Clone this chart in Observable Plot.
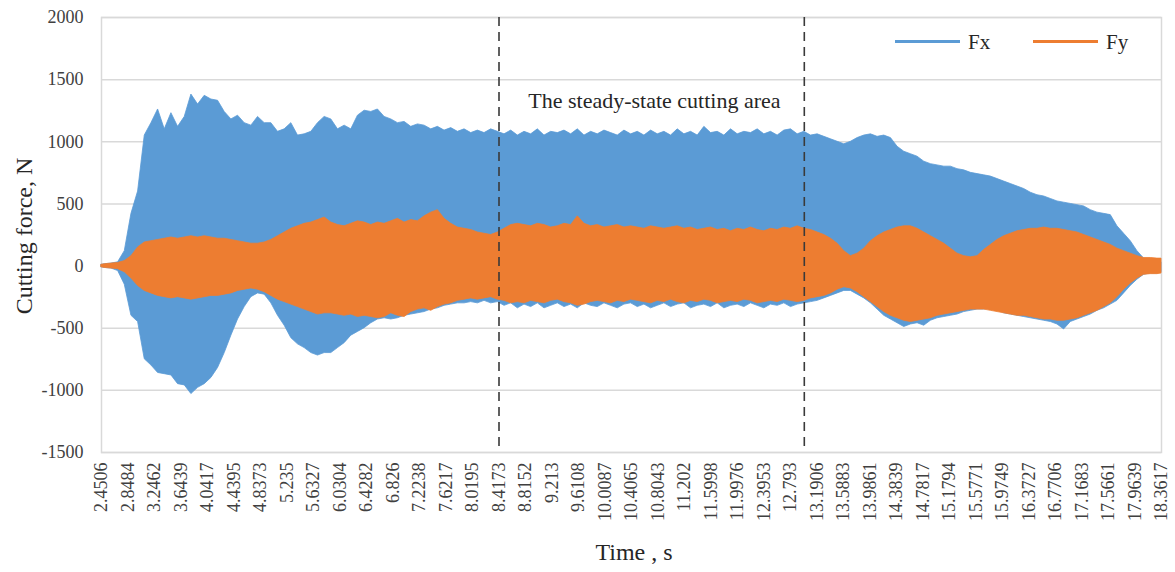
<!DOCTYPE html>
<html>
<head>
<meta charset="utf-8">
<script src="https://cdn.jsdelivr.net/npm/d3@7"></script>
<script src="https://cdn.jsdelivr.net/npm/@observablehq/plot@0.6"></script>
<style>
  body { margin: 0; background: #fff; }
  #wrap { position: relative; width: 1175px; height: 572px; font-family: "Liberation Serif", serif; color: #262626; }
  .abs { position: absolute; white-space: nowrap; }
  .ytitle { left: 24px; top: 236px; font-size: 24px; transform: translate(-50%, -50%) rotate(-90deg); }
  .xtitle { left: 634px; top: 552px; font-size: 24px; transform: translate(-50%, -50%); }
  .legtext { font-size: 21px; transform: translateY(-50%); }
  .legline { height: 2.5px; }
</style>
</head>
<body>
<div id="wrap"></div>
<script>
// ---- data ----
const seriesNames = ["Fx", "Fy"];
const seriesColors = ["#5B9BD5", "#ED7D31"];

const time = [2.4506,
  2.5, 2.6, 2.7, 2.8, 2.9,
  3.0, 3.1, 3.2, 3.3, 3.4, 3.5, 3.6, 3.7, 3.8, 3.9,
  4.0, 4.1, 4.2, 4.3, 4.4, 4.5, 4.6, 4.7, 4.8, 4.9,
  5.0, 5.1, 5.2, 5.3, 5.4, 5.5, 5.6, 5.7, 5.8, 5.9,
  6.0, 6.1, 6.2, 6.3, 6.4, 6.5, 6.6, 6.7, 6.8, 6.9,
  7.0, 7.1, 7.2, 7.3, 7.4, 7.5, 7.6, 7.7, 7.8, 7.9,
  8.0, 8.1, 8.2, 8.3, 8.4, 8.5, 8.6, 8.7, 8.8, 8.9,
  9.0, 9.1, 9.2, 9.3, 9.4, 9.5, 9.6, 9.7, 9.8, 9.9,
  10.0, 10.1, 10.2, 10.3, 10.4, 10.5, 10.6, 10.7, 10.8, 10.9,
  11.0, 11.1, 11.2, 11.3, 11.4, 11.5, 11.6, 11.7, 11.8, 11.9,
  12.0, 12.1, 12.2, 12.3, 12.4, 12.5, 12.6, 12.7, 12.8, 12.9,
  13.0, 13.1, 13.2, 13.3, 13.4, 13.5, 13.6, 13.7, 13.8, 13.9,
  14.0, 14.1, 14.2, 14.3, 14.4, 14.5, 14.6, 14.7, 14.8, 14.9,
  15.0, 15.1, 15.2, 15.3, 15.4, 15.5, 15.6, 15.7, 15.8, 15.9,
  16.0, 16.1, 16.2, 16.3, 16.4, 16.5, 16.6, 16.7, 16.8, 16.9,
  17.0, 17.1, 17.2, 17.3, 17.4, 17.5, 17.6, 17.7, 17.8, 17.9,
  18.0, 18.1, 18.2, 18.3,
  18.3617];

// Fx: upper and lower reach of the oscillation
const fxHigh = [10,
  15, 20, 30, 120, 420,
  600, 1050, 1150, 1260, 1100, 1230, 1120, 1200, 1380, 1300,
  1370, 1340, 1330, 1240, 1180, 1210, 1150, 1130, 1200, 1150,
  1150, 1080, 1100, 1150, 1050, 1060, 1080, 1150, 1200, 1180,
  1100, 1130, 1100, 1210, 1250, 1240, 1260, 1200, 1180, 1150,
  1160, 1120, 1140, 1130, 1100, 1120, 1090, 1110, 1080, 1100,
  1070, 1090, 1070, 1100, 1080, 1060, 1090, 1050, 1080, 1060,
  1100, 1050, 1080, 1070, 1090, 1060, 1100, 1050, 1080, 1060,
  1090, 1070, 1050, 1090, 1060, 1080, 1050, 1090, 1060, 1080,
  1050, 1100, 1060, 1080, 1050, 1120, 1070, 1080, 1050, 1100,
  1060, 1080, 1070, 1100, 1060, 1080, 1050, 1090, 1100, 1060,
  1080, 1050, 1060, 1040, 1020, 1000, 980, 1000, 1030, 1050,
  1060, 1040, 1050, 1030, 960, 920, 900, 880, 840, 820,
  810, 800, 800, 780, 770, 750, 740, 730, 720, 700,
  680, 660, 640, 620, 590, 570, 560, 540, 520, 510,
  500, 490, 480, 450, 430, 420, 410, 320, 260, 200,
  120, 60, 40, 40,
  30];

const fxLow = [-10,
  -15, -20, -40, -150, -400,
  -450, -750, -800, -860, -870, -880, -950, -960, -1030, -980,
  -950, -900, -820, -700, -560, -430, -330, -250, -220, -230,
  -300, -400, -480, -580, -630, -660, -700, -720, -700, -700,
  -660, -620, -560, -530, -500, -460, -430, -420, -430, -420,
  -400, -390, -380, -370, -350, -340, -320, -310, -300, -300,
  -290, -300, -280, -300, -290, -320, -300, -340, -310, -330,
  -300, -340, -320, -300, -330, -310, -340, -300, -320, -330,
  -300, -320, -340, -310, -300, -330, -310, -340, -320, -300,
  -330, -310, -300, -340, -320, -310, -330, -300, -340, -320,
  -310, -330, -300, -320, -340, -310, -320, -300, -330, -310,
  -300, -290, -280, -260, -240, -220, -200, -200, -230, -260,
  -300, -350, -400, -430, -460, -490, -470, -460, -480, -440,
  -420, -410, -400, -390, -370, -360, -350, -350, -340, -350,
  -380, -390, -400, -410, -420, -430, -440, -450, -470, -510,
  -450, -430, -410, -390, -360, -340, -310, -280, -220, -160,
  -110, -70, -60, -60,
  -50];

// Fy: upper and lower reach of the oscillation
const fyHigh = [10,
  15, 20, 25, 40, 80,
  150, 190, 200, 210, 220, 230, 220, 230, 240, 230,
  240, 230, 220, 220, 210, 200, 190, 180, 180, 190,
  210, 240, 270, 300, 320, 340, 350, 370, 390, 350,
  330, 320, 340, 360, 350, 330, 350, 340, 360, 380,
  350, 370, 360, 400, 430, 450, 380, 340, 310, 300,
  290, 270, 260, 250, 270, 300, 330, 340, 330, 320,
  340, 330, 310, 320, 340, 330, 400, 340, 320, 330,
  310, 320, 330, 310, 320, 310, 300, 320, 310, 300,
  310, 320, 300, 310, 290, 300, 310, 290, 300, 280,
  300, 290, 310, 290, 280, 300, 290, 310, 300, 320,
  300, 290, 270, 250, 220, 180, 120, 80, 100, 140,
  200, 240, 270, 290, 310, 320, 320, 300, 270, 240,
  210, 180, 140, 100, 80, 70, 80, 130, 170, 210,
  240, 260, 280, 290, 300, 300, 310, 300, 300, 290,
  280, 270, 250, 230, 210, 190, 170, 140, 120, 100,
  80, 65, 65, 60,
  60];

const fyLow = [-10,
  -15, -20, -25, -50, -100,
  -160, -200, -220, -240, -250, -260, -250, -260, -270, -260,
  -250, -240, -240, -230, -220, -200, -190, -180, -190, -210,
  -240, -270, -290, -310, -330, -350, -370, -390, -380, -380,
  -390, -400, -390, -410, -400, -410, -420, -410, -380, -400,
  -410, -370, -350, -340, -360, -330, -310, -300, -280, -270,
  -260, -270, -260, -250, -270, -280, -300, -290, -300, -280,
  -290, -300, -280, -270, -290, -300, -320, -310, -290, -280,
  -290, -300, -280, -290, -270, -280, -290, -300, -280, -290,
  -270, -290, -300, -280, -290, -270, -280, -300, -290, -280,
  -290, -270, -280, -300, -290, -280, -290, -270, -280, -290,
  -280, -260, -250, -240, -220, -190, -170, -180, -210, -250,
  -290, -330, -370, -400, -420, -440, -450, -440, -430, -420,
  -400, -390, -380, -370, -360, -350, -350, -350, -360, -370,
  -380, -390, -400, -400, -410, -420, -430, -430, -440, -440,
  -430, -420, -400, -380, -360, -330, -300, -250, -190, -140,
  -100, -70, -65, -65,
  -60];

const xTickLabels = ["2.4506", "2.8484", "3.2462", "3.6439", "4.0417", "4.4395", "4.8373", "5.235",
  "5.6327", "6.0304", "6.4282", "6.826", "7.2238", "7.6217", "8.0195", "8.4173", "8.8152", "9.213",
  "9.6108", "10.0087", "10.4065", "10.8043", "11.202", "11.5998", "11.9976", "12.3953", "12.793",
  "13.1906", "13.5883", "13.9861", "14.3839", "14.7817", "15.1794", "15.5771", "15.9749", "16.3727",
  "16.7706", "17.1683", "17.5661", "17.9639", "18.3617"];
const yTicks = [-1500, -1000, -500, 0, 500, 1000, 1500, 2000];

const steadyBounds = [8.4173, 13.0];
const annotations = [{x: 10.75, y: 1330, label: "The steady-state cutting area"}];

// ---- chart ----
const rows = time.map((t, i) => ({t, fxHi: fxHigh[i], fxLo: fxLow[i], fyHi: fyHigh[i], fyLo: fyLow[i]}));
const xTicks = xTickLabels.map(Number);
const labelOf = new Map(xTickLabels.map(s => [+s, s]));

const chart = Plot.plot({
  width: 1175,
  height: 572,
  marginLeft: 101,
  marginRight: 14,
  marginTop: 17,
  marginBottom: 120,
  style: {fontFamily: "'Liberation Serif', serif", color: "#404040", background: "transparent", overflow: "visible"},
  x: {domain: [xTicks[0], xTicks[xTicks.length - 1]]},
  y: {domain: [yTicks[0], yTicks[yTicks.length - 1]]},
  marks: [
    Plot.gridY(yTicks, {stroke: "#D9D9D9", strokeOpacity: 1, strokeWidth: 1.5}),
    Plot.frame({stroke: "#D9D9D9", strokeWidth: 1.5}),
    Plot.areaY(rows, {x: "t", y1: "fxLo", y2: "fxHi", fill: seriesColors[0], stroke: seriesColors[0], strokeWidth: 0.8}),
    Plot.areaY(rows, {x: "t", y1: "fyLo", y2: "fyHi", fill: seriesColors[1], stroke: seriesColors[1], strokeWidth: 0.8}),
    Plot.ruleX(steadyBounds, {stroke: "#3A3A3A", strokeWidth: 1.6, strokeDasharray: "9,6"}),
    Plot.text(annotations, {x: "x", y: "y", text: "label", fontSize: 22, fill: "#262626"}),
    Plot.axisY({ticks: yTicks, tickFormat: d => String(d), tickSize: 0, tickPadding: 18, fontSize: 18, label: null}),
    Plot.axisX({ticks: xTicks, tickFormat: d => labelOf.get(d), tickRotate: -90, tickSize: 0, tickPadding: 10, fontSize: 18, label: null})
  ]
});

const wrap = document.getElementById("wrap");
wrap.appendChild(chart);

function addDiv(cls, text, css) {
  const d = document.createElement("div");
  d.className = "abs " + cls;
  if (text) d.textContent = text;
  Object.assign(d.style, css || {});
  wrap.appendChild(d);
  return d;
}
addDiv("ytitle", "Cutting force, N");
addDiv("xtitle", "Time , s");
// legend
const legX = [895, 1033];
seriesNames.forEach((name, i) => {
  addDiv("legline", "", {left: legX[i] + "px", top: "40px", width: "65px", background: seriesColors[i]});
  addDiv("legtext", name, {left: (legX[i] + 73) + "px", top: "42px"});
});
</script>
</body>
</html>
